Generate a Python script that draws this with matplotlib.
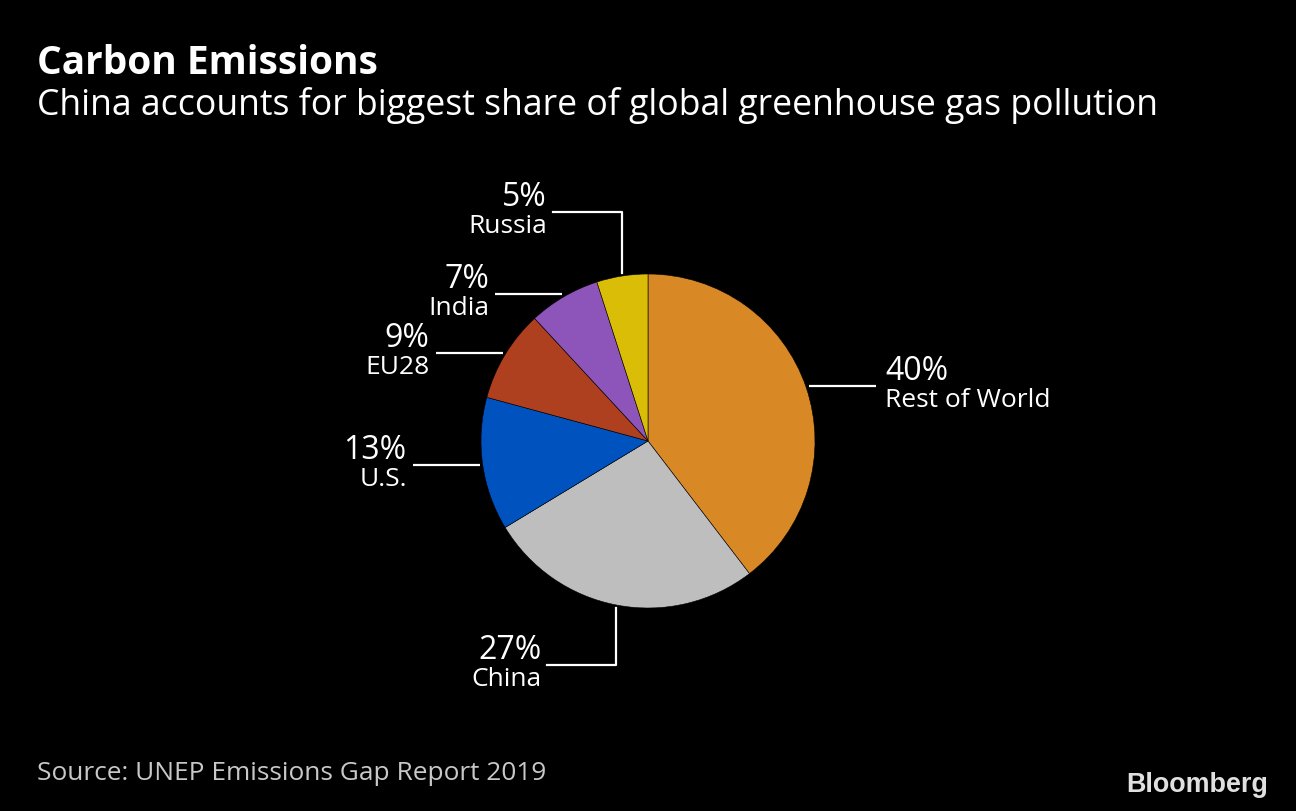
import numpy as np
import matplotlib
matplotlib.use("Agg")
import matplotlib.pyplot as plt

plt.rcParams['font.family'] = ['Open Sans', 'DejaVu Sans']

# data, clockwise from 12 o'clock
labels = ["Rest of World", "China", "U.S.", "EU28", "India", "Russia"]
shares = [40, 27, 13, 9, 7, 5]
colors = ["#D98826", "#BEBEBE", "#0052BE", "#AE401F", "#8D54B9", "#DABD06"]

W, H = 1296, 812
fig = plt.figure(figsize=(W / 100, H / 100), dpi=100, facecolor="black")
ax = fig.add_axes([0, 0, 1, 1])
ax.set_facecolor("black")

cx, cy, R = 648, H - 442, 167
wedges, _ = ax.pie(shares, colors=colors, startangle=90, counterclock=False,
                   center=(cx, cy), radius=R, frame=True,
                   wedgeprops=dict(edgecolor="black", linewidth=0.4))
ax.set_xlim(0, W)
ax.set_ylim(0, H)
ax.set_aspect("equal")
ax.axis("off")

# leader style per slice: 'h' horizontal, 'up'/'down' elbow
style = {"Rest of World": "h", "China": "down", "U.S.": "h",
         "EU28": "h", "India": "h", "Russia": "up"}
seg = 67
for w, lab, val in zip(wedges, labels, shares):
    ang = np.deg2rad((w.theta1 + w.theta2) / 2)
    ex = cx + (R + 3) * np.cos(ang)
    ey = cy + (R + 3) * np.sin(ang)
    right = np.cos(ang) > 0
    s = style[lab]
    if s == "h":
        x2 = ex + seg if right else ex - seg
        ax.plot([ex, x2], [ey, ey], color="white", lw=1.6, solid_capstyle="butt")
        ly = ey
    elif s == "up":
        ly = ey + 61
        x2 = ex - 69
        ax.plot([ex, ex, x2], [ey, ly, ly], color="white", lw=1.6)
    else:
        ly = ey - 57
        x2 = ex - 69
        ax.plot([ex, ex, x2], [ey, ly, ly], color="white", lw=1.6)
    if right:
        tx, ha = x2 + 9, "left"
    else:
        tx, ha = x2 - 6, "right"
    ax.text(tx, ly + 7, f"{val}%", color="white", fontsize=23, ha=ha, va="baseline")
    ax.text(tx, ly - 1, lab, color="white", fontsize=19, ha=ha, va="top")

fig.text(37 / W, 1 - 63 / H, "Carbon Emissions", color="white", fontsize=28,
         fontweight="bold", ha="left", va="center")
fig.text(37 / W, 1 - 105 / H,
         "China accounts for biggest share of global greenhouse gas pollution",
         color="white", fontsize=25.7, ha="left", va="center")
fig.text(37 / W, 1 - 774 / H, "Source: UNEP Emissions Gap Report 2019",
         color="#C8C8C8", fontsize=18.9, ha="left", va="center")
fig.text(1268 / W, 1 - 785 / H, "Bloomberg", color="#E0E0E0", fontsize=19.4,
         fontweight="bold", ha="right", va="center", family=["Liberation Sans", "DejaVu Sans"])

fig.savefig("out.png", dpi=100, facecolor="black")
